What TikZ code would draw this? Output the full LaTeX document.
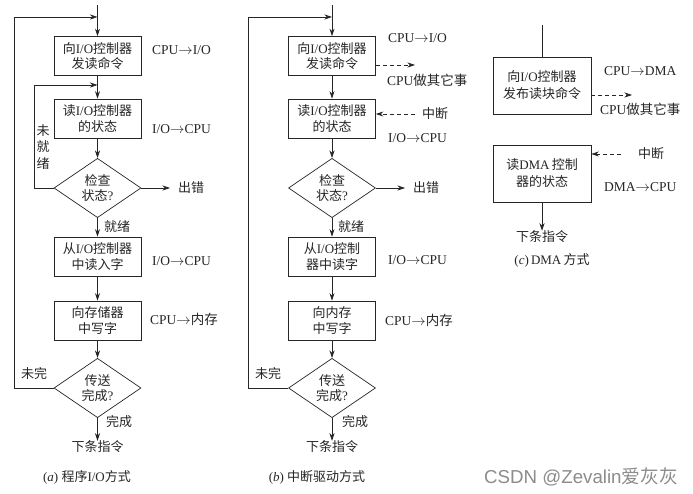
\documentclass[tikz,border=0pt]{standalone}
\usepackage{fontspec}
\setmainfont{Liberation Serif}
\newfontfamily\cjk{Noto Sans CJK SC}
\newfontfamily\wmsans{Liberation Sans}
\usetikzlibrary{shapes.geometric,arrows.meta}
\newcommand\zh[1]{{\cjk #1}}
\newcommand\tor{$\rightarrow$}
\tikzset{
  ln/.style={draw=black!85, line width=0.7pt},
  arr/.style={ln, -{Stealth[length=7.5pt,width=5pt]}},
  darr/.style={arr, dash pattern=on 4pt off 3pt},
  txt/.style={font=\fontsize{13}{15.5}\selectfont, text=black!85},
  ltxt/.style={font=\fontsize{13.5}{15.5}\selectfont, text=black!85},
  pbox/.style={ln, txt, rectangle, minimum width=87pt, minimum height=39pt, inner sep=0pt, align=center},
  cbox/.style={pbox, minimum width=98pt, minimum height=57pt, font=\fontsize{13}{17}\selectfont},
  dia/.style={ln, txt, diamond, minimum width=87pt, minimum height=48pt, inner sep=0pt, align=center},
  lbl/.style={txt, inner sep=0pt},
  wlbl/.style={lbl, anchor=west},
  rlbl/.style={ltxt, inner sep=0pt, anchor=west},
}
\begin{document}
\begin{tikzpicture}[x=1pt,y=-1pt]
\useasboundingbox[fill=white] (0,0) rectangle (693,494);
% ---------------- (a) ----------------
\coordinate (aTop) at (97.5,5);
\coordinate (aJ1) at (97.5,17);
\coordinate (aL1) at (14,17);
\coordinate (aJ2) at (97.5,85);
\coordinate (aL2) at (34,85);
\coordinate (aE) at (170,188);
\node[pbox] (a1) at (97.5,56) {\zh{向}I/O\zh{控制器}\\\zh{发读命令}};
\node[pbox] (a2) at (97.5,118.5) {\zh{读}I/O\zh{控制器}\\\zh{的状态}};
\node[dia] (a3) at (97.5,188) {\zh{检查}\\\zh{状态}?};
\node[pbox] (a4) at (97.5,256.5) {\zh{从}I/O\zh{控制器}\\\zh{中读入字}};
\node[pbox] (a5) at (97.5,320.5) {\zh{向存储器}\\\zh{中写字}};
\node[dia] (a6) at (97.5,388) {\zh{传送}\\\zh{完成}?};
\node[lbl] (a7) at (97.5,447) {\zh{下条指令}};
\node[lbl] (acap) at (87,477) {(\textit{a}) \zh{程序}I/O\zh{方式}};
\node[wlbl] (aErr) at (178,188) {\zh{出错}};
\node[rlbl] (aL1t) at (152,50) {CPU\tor I/O};
\node[rlbl] (aL2t) at (152,129) {I/O\tor CPU};
\node[rlbl] (aL4t) at (152,261) {I/O\tor CPU};
\node[rlbl] (aL5t) at (150,319) {CPU\tor\zh{内存}};
\node[lbl] (aRdy) at (117,227) {\zh{就绪}};
\node[lbl] (aDone) at (119,422) {\zh{完成}};
\node[lbl] (aNot) at (34,374) {\zh{未完}};
\node[lbl, align=center, font=\fontsize{13}{16.5}\selectfont] (aNR) at (43,147) {\zh{未}\\\zh{就}\\\zh{绪}};
\draw[arr] (aTop) -- (a1.north);
\draw[arr] (a1) -- (a2);
\draw[arr] (a2) -- (a3);
\draw[arr] (a3) -- (a4);
\draw[arr] (a4) -- (a5);
\draw[arr] (a5) -- (a6);
\draw[arr] (a6) -- (a7);
\draw[arr] (a3.east) -- (aE);
\draw[arr] (a3.west) -| (aL2) -- (aJ2);
\draw[arr] (a6.west) -| (aL1) -- (aJ1);
% ---------------- (b) ----------------
\coordinate (bTop) at (332,5);
\coordinate (bJ1) at (332,17);
\coordinate (bL1) at (248,17);
\coordinate (bE) at (405,188);
\coordinate (bC1) at (415,65);
\coordinate (bI) at (415,114);
\node[pbox] (b1) at (332,56) {\zh{向}I/O\zh{控制器}\\\zh{发读命令}};
\node[pbox] (b2) at (332,118.5) {\zh{读}I/O\zh{控制器}\\\zh{的状态}};
\node[dia] (b3) at (332,188) {\zh{检查}\\\zh{状态}?};
\node[pbox] (b4) at (332,256.5) {\zh{从}I/O\zh{控制}\\\zh{器中读字}};
\node[pbox] (b5) at (332,320.5) {\zh{向内存}\\\zh{中写字}};
\node[dia] (b6) at (332,388) {\zh{传送}\\\zh{完成}?};
\node[lbl] (b7) at (332,447) {\zh{下条指令}};
\node[lbl] (bcap) at (317,477) {(\textit{b}) \zh{中断驱动方式}};
\node[wlbl] (bErr) at (413,188) {\zh{出错}};
\node[rlbl] (bL1t) at (388,38) {CPU\tor I/O};
\node[rlbl] (bL1d) at (387,80) {CPU\zh{做其它事}};
\node[wlbl] (bInt) at (422,114) {\zh{中断}};
\node[rlbl] (bL2t) at (388,138) {I/O\tor CPU};
\node[rlbl] (bL4t) at (388,260) {I/O\tor CPU};
\node[rlbl] (bL5t) at (385,320) {CPU\tor\zh{内存}};
\node[lbl] (bRdy) at (351,227) {\zh{就绪}};
\node[lbl] (bDone) at (355,422) {\zh{完成}};
\node[lbl] (bNot) at (268,374) {\zh{未完}};
\draw[arr] (bTop) -- (b1.north);
\draw[arr] (b1) -- (b2);
\draw[arr] (b2) -- (b3);
\draw[arr] (b3) -- (b4);
\draw[arr] (b4) -- (b5);
\draw[arr] (b5) -- (b6);
\draw[arr] (b6) -- (b7);
\draw[arr] (b3.east) -- (bE);
\draw[arr] (b6.west) -| (bL1) -- (bJ1);
\draw[darr] ([yshift=-9pt]b1.east) -- (bC1);
\draw[darr] (bI) -- ([yshift=4.5pt]b2.east);
% ---------------- (c) ----------------
\coordinate (cTop) at (542,25);
\coordinate (cC1) at (632,95);
\coordinate (cI) at (621,154);
\node[cbox] (c1) at (542,85.5) {\zh{向}I/O\zh{控制器}\\\zh{发布读块命令}};
\node[cbox] (c2) at (542,173.5) {\zh{读}DMA\,\zh{控制}\\\zh{器的状态}};
\node[lbl] (c3) at (542,237) {\zh{下条指令}};
\node[lbl] (ccap) at (552,260) {(\textit{c})\,DMA\,\zh{方式}};
\node[rlbl] (cL1t) at (604,71) {CPU\tor DMA};
\node[rlbl] (cL1d) at (600,109) {CPU\zh{做其它事}};
\node[wlbl] (cInt) at (638,154) {\zh{中断}};
\node[rlbl] (cL2t) at (604,187) {DMA\tor CPU};
\draw[ln] (cTop) -- (c1.north);
\draw[arr] (c2) -- (c3);
\draw[darr] ([yshift=-9.5pt]c1.east) -- (cC1);
\draw[darr] (cI) -- ([yshift=19.5pt]c2.east);
% watermark
\node[inner sep=0pt, text=black!45, font=\fontsize{18.7}{20}\selectfont\wmsans, anchor=west] (wm) at (484,477) {CSDN @Zevalin\zh{爱灰灰}};
\end{tikzpicture}
\end{document}
